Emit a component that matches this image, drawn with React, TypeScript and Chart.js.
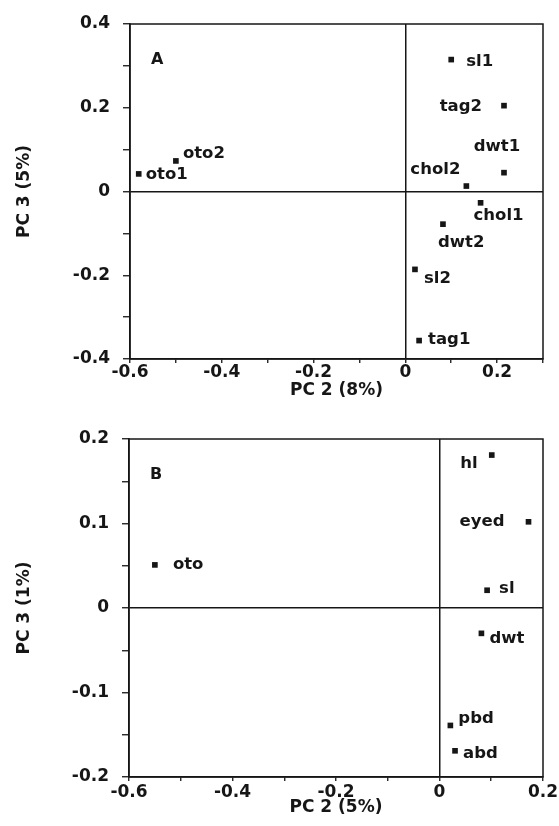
import React, { useEffect, useRef } from 'react';
import { Chart, registerables } from 'chart.js';
Chart.register(...registerables);

// ---------- Panel A data ----------
const labelsA = ['sl1', 'tag2', 'dwt1', 'chol2', 'chol1', 'dwt2', 'sl2', 'tag1', 'oto1', 'oto2'];
const pc2A = [0.1, 0.215, 0.215, 0.133, 0.164, 0.082, 0.021, 0.03, -0.581, -0.5];
const pc3A = [0.315, 0.205, 0.045, 0.013, -0.027, -0.078, -0.186, -0.356, 0.042, 0.073];
const xTickLabelsA = [-0.6, -0.4, -0.2, 0, 0.2];
const yTickLabelsA = [-0.4, -0.2, 0, 0.2, 0.4];

// ---------- Panel B data ----------
const labelsB = ['hl', 'eyed', 'sl', 'dwt', 'pbd', 'abd', 'oto'];
const pc2B = [0.101, 0.172, 0.092, 0.081, 0.021, 0.03, -0.55];
const pc3B = [0.181, 0.102, 0.021, -0.03, -0.139, -0.169, 0.051];
const xTickLabelsB = [-0.6, -0.4, -0.2, 0, 0.2];
const yTickLabelsB = [-0.2, -0.1, 0, 0.1, 0.2];

// ---------- label placement (style) ----------
const placeA: [number, number, CanvasTextAlign][] = [
  [15, 2, 'left'],
  [-22, 1, 'right'],
  [-7, -26, 'center'],
  [-6, -16, 'right'],
  [-7, 13, 'left'],
  [-5, 19, 'left'],
  [9, 9, 'left'],
  [9, -1, 'left'],
  [7, 1, 'left'],
  [7, -7, 'left'],
];
const placeB: [number, number, CanvasTextAlign][] = [
  [-14, 9, 'right'],
  [-24, 0, 'right'],
  [12, -2, 'left'],
  [8, 5, 'left'],
  [8, -7, 'left'],
  [8, 3, 'left'],
  [18, 0, 'left'],
];

const INK = '#161616';
const FAMILY = "'DejaVu Sans', sans-serif";

const annotatePlugin = {
  id: 'annotate',
  afterDatasetsDraw(chart: any, _args: any, opts: any) {
    const { ctx, chartArea } = chart;
    const meta = chart.getDatasetMeta(0);
    ctx.save();
    ctx.fillStyle = INK;
    ctx.textBaseline = 'middle';
    ctx.font = `bold 16.5px ${FAMILY}`;
    meta.data.forEach((pt: any, i: number) => {
      const [dx, dy, align] = opts.place[i];
      ctx.textAlign = align;
      ctx.fillText(opts.labels[i], pt.x + dx, pt.y + dy);
    });
    ctx.textAlign = 'left';
    ctx.font = `bold 16px ${FAMILY}`;
    ctx.fillText(opts.panel, chartArea.left + 21, chartArea.top + 36);
    ctx.strokeStyle = INK;
    ctx.lineWidth = 1.5;
    ctx.strokeRect(chartArea.left, chartArea.top, chartArea.right - chartArea.left, chartArea.bottom - chartArea.top);
    ctx.restore();
  },
};

const near = (a: number, b: number) => Math.abs(a - b) < 1e-9;
const fmt = (v: number) => {
  const r = Math.round(v * 100) / 100;
  return near(r, 0) ? '0' : String(r);
};

type PanelProps = {
  top: number;
  height: number;
  xs: number[];
  ys: number[];
  labels: string[];
  place: [number, number, CanvasTextAlign][];
  panel: string;
  xMin: number;
  xMax: number;
  yMin: number;
  yMax: number;
  yStep: number;
  xLabels: number[];
  yLabels: number[];
  xTitle: string;
  yTitle: string;
  padTop: number;
  yWidth: number;
  xHeight: number;
  xTitlePad: number;
  xTickPad: number;
};

function Panel(p: PanelProps) {
  const ref = useRef<HTMLCanvasElement>(null);
  useEffect(() => {
    const tickFont = { family: FAMILY, size: 17, weight: 'bold' as const };
    const zeroColor = (c: any) => (c.tick && near(c.tick.value, 0) ? INK : 'rgba(0,0,0,0)');
    const chart = new Chart(ref.current!, {
      type: 'scatter',
      data: {
        datasets: [
          {
            data: p.xs.map((x, i) => ({ x, y: p.ys[i] })),
            pointStyle: 'rect',
            pointRadius: 4,
            backgroundColor: INK,
            borderWidth: 0,
          },
        ],
      },
      options: {
        responsive: false,
        animation: false,
        layout: { padding: { top: p.padTop, right: 16, left: 0, bottom: 0 } },
        plugins: {
          legend: { display: false },
          tooltip: { enabled: false },
          annotate: { labels: p.labels, place: p.place, panel: p.panel },
        } as any,
        scales: {
          x: {
            type: 'linear',
            min: p.xMin,
            max: p.xMax,
            ticks: {
              stepSize: 0.1,
              autoSkip: false,
              maxRotation: 0,
              padding: p.xTickPad,
              color: INK,
              font: tickFont,
              callback: (v: any) => (p.xLabels.some((l) => near(l, Number(v))) ? fmt(Number(v)) : ''),
            },
            grid: {
              drawOnChartArea: true,
              color: zeroColor,
              lineWidth: 1.5,
              tickLength: 4,
              tickColor: INK,
              tickWidth: 1.3,
            },
            border: { display: true, color: INK, width: 1.5 },
            title: {
              display: true,
              text: p.xTitle,
              color: INK,
              font: tickFont,
              padding: { top: 0, bottom: p.xTitlePad },
            },
            afterFit: (s: any) => {
              s.height = p.xHeight;
              s.paddingLeft = 0;
              s.paddingRight = 0;
            },
          },
          y: {
            type: 'linear',
            min: p.yMin,
            max: p.yMax,
            ticks: {
              stepSize: p.yStep,
              autoSkip: false,
              padding: 13,
              color: INK,
              font: tickFont,
              callback: (v: any) => (p.yLabels.some((l) => near(l, Number(v))) ? fmt(Number(v)) : ''),
            },
            grid: {
              drawOnChartArea: true,
              color: zeroColor,
              lineWidth: 1.5,
              tickLength: 7,
              tickColor: INK,
              tickWidth: 1.3,
            },
            border: { display: true, color: INK, width: 1.5 },
            title: {
              display: true,
              text: p.yTitle,
              color: INK,
              font: tickFont,
              padding: { top: 14, bottom: 0 },
            },
            afterFit: (s: any) => {
              s.width = p.yWidth;
              s.paddingTop = 0;
              s.paddingBottom = 0;
            },
          },
        },
      },
      plugins: [annotatePlugin],
    } as any);
    return () => chart.destroy();
  }, []);
  return (
    <div style={{ position: 'absolute', left: 0, top: p.top, width: 559, height: p.height }}>
      <canvas ref={ref} width={559} height={p.height} style={{ display: 'block' }} />
    </div>
  );
}

export default function App() {
  return (
    <div style={{ position: 'fixed', left: 0, top: 0, width: 559, height: 826, background: '#fff' }}>
      <Panel
        top={0}
        height={413}
        xs={pc2A}
        ys={pc3A}
        labels={labelsA}
        place={placeA}
        panel="A"
        xMin={-0.6}
        xMax={0.3}
        yMin={-0.4}
        yMax={0.4}
        yStep={0.1}
        xLabels={xTickLabelsA}
        yLabels={yTickLabelsA}
        xTitle="PC 2 (8%)"
        yTitle="PC 3 (5%)"
        padTop={24}
        yWidth={130}
        xHeight={54}
        xTitlePad={12}
        xTickPad={-1}
      />
      <Panel
        top={413}
        height={413}
        xs={pc2B}
        ys={pc3B}
        labels={labelsB}
        place={placeB}
        panel="B"
        xMin={-0.6}
        xMax={0.2}
        yMin={-0.2}
        yMax={0.2}
        yStep={0.05}
        xLabels={xTickLabelsB}
        yLabels={yTickLabelsB}
        xTitle="PC 2 (5%)"
        yTitle="PC 3 (1%)"
        padTop={26}
        yWidth={129}
        xHeight={49}
        xTitlePad={8}
        xTickPad={1}
      />
    </div>
  );
}
